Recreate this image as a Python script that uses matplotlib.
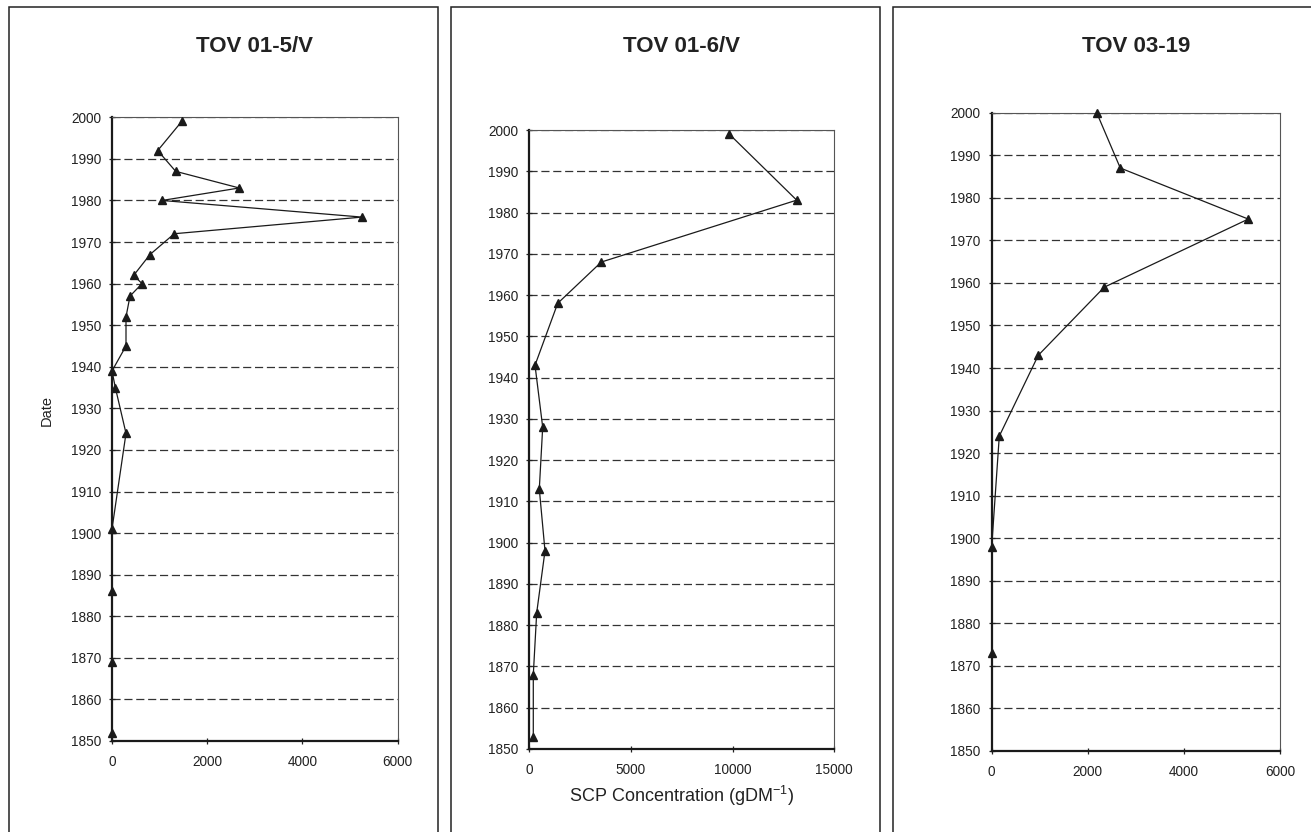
import matplotlib
matplotlib.use("Agg")
import matplotlib.pyplot as plt
from matplotlib.patches import Rectangle

plt.rcParams['font.family'] = ['Liberation Sans', 'DejaVu Sans']
plt.rcParams['mathtext.default'] = 'regular'

# TOV 01-5/V
years_5v = [1999, 1992, 1987, 1983, 1980, 1976, 1972, 1967, 1962, 1960,
            1957, 1952, 1945, 1939, 1935, 1924, 1901, 1886, 1869, 1852]
scp_5v = [1464, 960, 1338, 2673, 1050, 5250, 1308, 798, 456, 630,
          378, 294, 294, 0, 70, 294, 0, 0, 0, 0]

# TOV 01-6/V
years_6v = [1999, 1983, 1968, 1958, 1943, 1928, 1913, 1898, 1883, 1868, 1853]
scp_6v = [9841, 13152, 3552, 1410, 295, 673, 506, 786, 378, 211, 211]

# TOV 03-19
years_319 = [2000, 1987, 1975, 1959, 1943, 1924, 1898, 1873]
scp_319 = [2185, 2676, 5340, 2343, 970, 158, 0, 0]

titles = ["TOV 01-5/V", "TOV 01-6/V", "TOV 03-19"]
xmaxes = [6000, 15000, 6000]
xtick_sets = [[0, 2000, 4000, 6000], [0, 5000, 10000, 15000], [0, 2000, 4000, 6000]]
yticks = list(range(1850, 2001, 10))

W, H = 1311, 832
fig = plt.figure(figsize=(W / 100, H / 100), dpi=100)

# axes boxes in pixels: left, top, right, bottom
boxes = [(112, 117.3, 397.7, 741), (529, 130, 834.3, 749), (991.7, 112.7, 1280, 751)]
# panel frames (pixel x range)
frames = [(9.3, 438.3), (451, 880), (892.7, 1318)]

for x0, x1 in frames:
    fig.patches.append(Rectangle((x0 / W, -0.02), (x1 - x0) / W, (832 - 7.3) / H + 0.02,
                                 transform=fig.transFigure, fill=False,
                                 edgecolor='#222222', linewidth=1.1))

series = [(scp_5v, years_5v), (scp_6v, years_6v), (scp_319, years_319)]

for i, ((xs, ys), (l, t, r, b)) in enumerate(zip(series, boxes)):
    ax = fig.add_axes([l / W, (H - b) / H, (r - l) / W, (b - t) / H])
    for yv in yticks[1:]:
        ax.axhline(yv, color='#333333', linewidth=0.9, linestyle=(0, (6.5, 3)), zorder=1)
    ax.plot(xs, ys, color='#1a1a1a', linewidth=0.9, marker='^', markersize=6,
            markerfacecolor='#1a1a1a', markeredgecolor='#1a1a1a', clip_on=False, zorder=3)
    ax.set_xlim(0, xmaxes[i])
    ax.set_ylim(1850, 2000)
    ax.set_xticks(xtick_sets[i])
    ax.set_yticks(yticks)
    ax.tick_params(direction='inout', length=5, width=0.9, colors='#222222',
                   labelsize=9.8, labelcolor='#222222')
    ax.tick_params(axis='x', pad=7.5)
    ax.tick_params(axis='y', pad=5.5)
    for side in ['left', 'bottom']:
        ax.spines[side].set_linewidth(1.6)
        ax.spines[side].set_color('#1a1a1a')
    for side in ['right', 'top']:
        ax.spines[side].set_linewidth(0.8)
        ax.spines[side].set_color('#555555')
    cx = (l + r) / 2
    fig.text(cx / W, (H - 47) / H, titles[i], ha='center', va='center',
             fontsize=16, fontweight='bold', color='#222222')

fig.text(47 / W, (H - 411) / H, "Date", rotation=90, ha='center', va='center',
         fontsize=10.5, color='#222222')
fig.text(681.7 / W, (H - 795.7) / H, "SCP Concentration (gDM$^{-1}$)",
         ha='center', va='center', fontsize=13, color='#222222')

fig.savefig("out.png", dpi=100)
